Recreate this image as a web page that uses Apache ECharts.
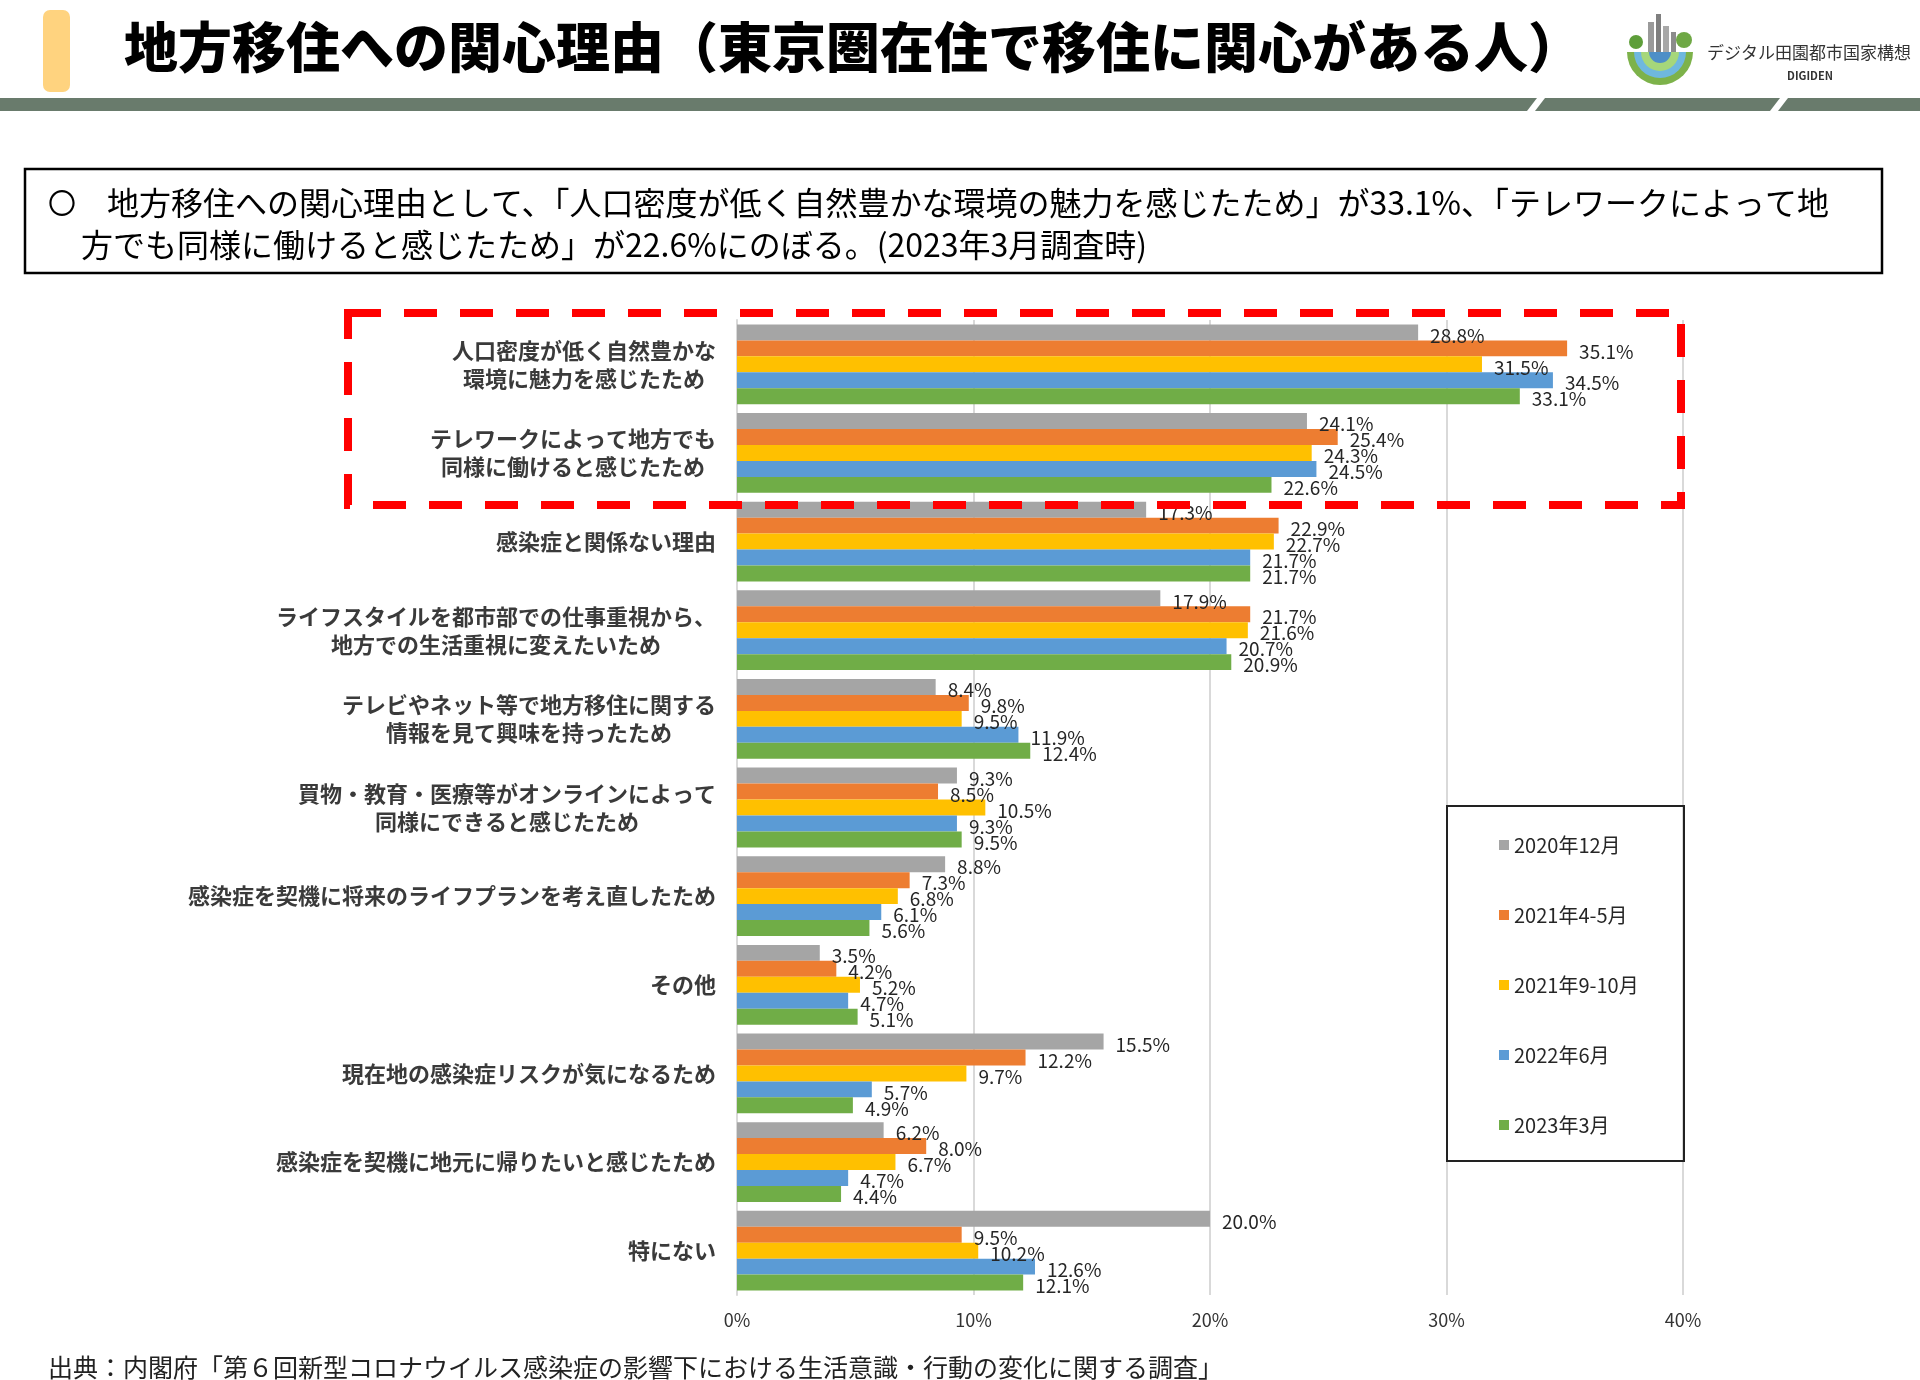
<!DOCTYPE html>
<html lang="ja">
<head>
<meta charset="utf-8">
<title>地方移住への関心理由</title>
<script src="https://cdn.jsdelivr.net/npm/echarts@6/dist/echarts.min.js"></script>
<style>
  html, body { margin: 0; padding: 0; background: #fff; }
  #main { width: 1920px; height: 1380px; }
</style>
</head>
<body>
<div id="main"></div>
<script>
const categories = [
  "人口密度が低く自然豊かな\n環境に魅力を感じたため",
  "テレワークによって地方でも\n同様に働けると感じたため",
  "感染症と関係ない理由",
  "ライフスタイルを都市部での仕事重視から、\n地方での生活重視に変えたいため",
  "テレビやネット等で地方移住に関する\n情報を見て興味を持ったため",
  "買物・教育・医療等がオンラインによって\n同様にできると感じたため",
  "感染症を契機に将来のライフプランを考え直したため",
  "その他",
  "現在地の感染症リスクが気になるため",
  "感染症を契機に地元に帰りたいと感じたため",
  "特にない",
];

const seriesNames = ["2020年12月", "2021年4-5月", "2021年9-10月", "2022年6月", "2023年3月"];
const seriesColors = ["#A5A5A5", "#ED7D31", "#FFC000", "#5B9BD5", "#70AD47"];

const dec2020 = [28.8, 24.1, 17.3, 17.9, 8.4, 9.3, 8.8, 3.5, 15.5, 6.2, 20.0];
const aprMay2021 = [35.1, 25.4, 22.9, 21.7, 9.8, 8.5, 7.3, 4.2, 12.2, 8.0, 9.5];
const sepOct2021 = [31.5, 24.3, 22.7, 21.6, 9.5, 10.5, 6.8, 5.2, 9.7, 6.7, 10.2];
const jun2022 = [34.5, 24.5, 21.7, 20.7, 11.9, 9.3, 6.1, 4.7, 5.7, 4.7, 12.6];
const mar2023 = [33.1, 22.6, 21.7, 20.9, 12.4, 9.5, 5.6, 5.1, 4.9, 4.4, 12.1];
const seriesValues = [dec2020, aprMay2021, sepOct2021, jun2022, mar2023];

const xTicks = { min: 0, max: 40, interval: 10 };

const FONT = '"Noto Sans CJK JP", "Noto Sans", sans-serif';

const chart = echarts.init(document.getElementById("main"));

const series = seriesNames.map((name, i) => ({
  name: name,
  type: "bar",
  data: seriesValues[i],
  barGap: "0%",
  barCategoryGap: "10%",
  itemStyle: { color: seriesColors[i] },
  label: {
    show: true,
    position: "right",
    distance: 12,
    offset: [0, 3],
    color: "#262626",
    fontFamily: FONT,
    fontSize: 19,
    formatter: (p) => p.value.toFixed(1) + "%",
  },
}));

const option = {
  backgroundColor: "#fff",
  animation: false,
  textStyle: { fontFamily: FONT },
  grid: { left: 737, right: 237, top: 320, bottom: 85, containLabel: false },
  legend: {
    data: seriesNames,
    orient: "vertical",
    left: 1494,
    top: 829,
    itemWidth: 10,
    itemHeight: 10,
    itemGap: 48,
    itemStyle: { borderWidth: 0 },
    icon: "rect",
    textStyle: { fontSize: 20, color: "#262626", lineHeight: 22, fontFamily: FONT },
  },
  xAxis: {
    type: "value",
    min: xTicks.min,
    max: xTicks.max,
    interval: xTicks.interval,
    axisLine: { show: false },
    axisTick: { show: false },
    splitLine: { lineStyle: { color: "#d9d9d9", width: 2 } },
    axisLabel: { formatter: "{value}%", color: "#333", fontSize: 18, margin: 16 },
  },
  yAxis: {
    type: "category",
    data: categories,
    inverse: true,
    axisTick: { show: false },
    axisLine: { lineStyle: { color: "#d9d9d9", width: 2 } },
    axisLabel: {
      margin: 21,
      formatter: (v) => v.split("\n").map((l) => "{c|" + l + "}").join("\n"),
      rich: {
        c: {
          align: "center",
          fontSize: 22,
          fontWeight: "bold",
          color: "#3a3a3a",
          lineHeight: 28,
          fontFamily: FONT,
        },
      },
    },
  },
  series: series,
  graphic: [
    // title marker
    { type: "rect", shape: { x: 43, y: 10, width: 27, height: 82, r: 7 }, style: { fill: "#FFD37F" } },
    {
      type: "text",
      style: {
        x: 124, y: 47, text: "地方移住への関心理由（東京圏在住で移住に関心がある人）",
        fontSize: 54, fontWeight: 900, fontFamily: FONT, fill: "#000",
        verticalAlign: "middle", textVerticalAlign: "middle",
      },
    },
    // header band
    { type: "polygon", shape: { points: [[0, 98], [1537, 98], [1527, 111], [0, 111]] }, style: { fill: "#697B6C" } },
    { type: "polygon", shape: { points: [[1545, 98], [1780, 98], [1770, 111], [1535, 111]] }, style: { fill: "#697B6C" } },
    { type: "polygon", shape: { points: [[1788, 98], [1920, 98], [1920, 111], [1778, 111]] }, style: { fill: "#697B6C" } },
    // logo
    { type: "sector", shape: { cx: 1660, cy: 52, r: 33, startAngle: 0, endAngle: Math.PI }, style: { fill: "#7DB24A" } },
    { type: "sector", shape: { cx: 1660, cy: 52, r: 26, startAngle: 0, endAngle: Math.PI }, style: { fill: "#6FB8DE" } },
    { type: "sector", shape: { cx: 1660, cy: 52, r: 19, startAngle: 0, endAngle: Math.PI }, style: { fill: "#A6D77A" } },
    { type: "sector", shape: { cx: 1660, cy: 52, r: 11, startAngle: 0, endAngle: Math.PI }, style: { fill: "#4E8FC7" } },
    { type: "rect", shape: { x: 1648, y: 22, width: 6, height: 30 }, style: { fill: "#9a9a9a" } },
    { type: "rect", shape: { x: 1656, y: 14, width: 5, height: 38 }, style: { fill: "#7f7f7f" } },
    { type: "rect", shape: { x: 1663, y: 26, width: 6, height: 26 }, style: { fill: "#a8a8a8" } },
    { type: "rect", shape: { x: 1671, y: 32, width: 5, height: 20 }, style: { fill: "#8c8c8c" } },
    { type: "circle", shape: { cx: 1636, cy: 42, r: 7 }, style: { fill: "#5E9E3A" } },
    { type: "circle", shape: { cx: 1684, cy: 40, r: 8 }, style: { fill: "#6FA845" } },
    {
      type: "text",
      style: { x: 1707, y: 53, text: "デジタル田園都市国家構想", fontSize: 17, fontFamily: FONT, fill: "#333",
        verticalAlign: "middle", textVerticalAlign: "middle" },
    },
    {
      type: "text",
      style: { x: 1810, y: 76, text: "DIGIDEN", fontSize: 11, fontWeight: "bold", fontFamily: FONT, fill: "#333",
        align: "center", textAlign: "center", verticalAlign: "middle", textVerticalAlign: "middle" },
    },
    // summary box
    { type: "rect", shape: { x: 25, y: 169, width: 1857, height: 104 }, style: { fill: "none", stroke: "#000", lineWidth: 2.5 } },
    {
      type: "text",
      style: { x: 48, y: 203, text: "〇", fontSize: 28, fontFamily: FONT, fill: "#000",
        verticalAlign: "middle", textVerticalAlign: "middle" },
    },
    {
      type: "text",
      style: { x: 107, y: 203, text: "地方移住への関心理由として、「人口密度が低く自然豊かな環境の魅力を感じたため」が33.1%、「テレワークによって地",
        fontSize: 32, fontFamily: FONT, fill: "#000", verticalAlign: "middle", textVerticalAlign: "middle" },
    },
    {
      type: "text",
      style: { x: 81, y: 245, text: "方でも同様に働けると感じたため」が22.6%にのぼる。(2023年3月調査時)",
        fontSize: 32, fontFamily: FONT, fill: "#000", verticalAlign: "middle", textVerticalAlign: "middle" },
    },
    // highlight box
    {
      type: "rect", z: 100,
      shape: { x: 348, y: 313, width: 1333, height: 192 },
      style: { fill: "none", stroke: "#FF0000", lineWidth: 8, lineDash: [33, 23] },
    },
    // legend box
    {
      type: "rect", z: 100,
      shape: { x: 1447, y: 806, width: 237, height: 355 },
      style: { fill: "none", stroke: "#222", lineWidth: 2 },
    },
    // source
    {
      type: "text",
      style: { x: 48, y: 1367, text: "出典：内閣府「第６回新型コロナウイルス感染症の影響下における生活意識・行動の変化に関する調査」",
        fontSize: 25, fontFamily: FONT, fill: "#222", verticalAlign: "middle", textVerticalAlign: "middle" },
    },
  ],
};

chart.setOption(option);
</script>
</body>
</html>
